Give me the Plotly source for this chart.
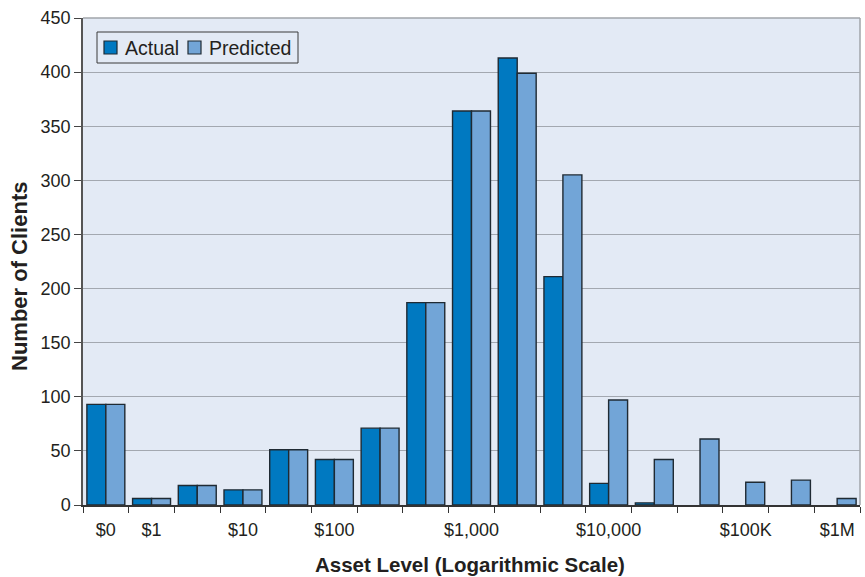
import plotly.graph_objects as go

# Asset-level bins (log scale), with labels only on some bins
bins = list(range(17))
bin_labels = ["$0", "$1", "", "$10", "", "$100", "", "", "$1,000", "", "",
              "$10,000", "", "", "$100K", "", "$1M"]

actual = [93, 6, 18, 14, 51, 42, 71, 187, 364, 413, 211, 20, 2, 0, 0, 0, 0]
predicted = [93, 6, 18, 14, 51, 42, 71, 187, 364, 399, 305, 97, 42, 61, 21, 23, 6]

y_ticks = list(range(0, 451, 50))

FONT = "Arial, Liberation Sans, sans-serif"
TXT = "#231f20"
PLOT_BG = "#e3eaf5"
C_ACT = "#0079c1"
C_PRED = "#72a5d7"
EDGE = "#1f2a33"

# plot area in pixels (figure is 865 x 577)
L, R, T, B = 83, 5, 18, 72
PW, PH = 865 - L - R, 577 - T - B


def px(x):
    return (x - L) / PW


def py(y):
    return (577 - B - y) / PH


def edge_widths(vals):
    # no outline for empty bins, so nothing is drawn on the baseline
    return [0 if v == 0 else 1.4 for v in vals]


fig = go.Figure()
fig.add_trace(go.Bar(
    x=bins, y=actual, name="Actual",
    marker=dict(color=C_ACT, line=dict(color=EDGE, width=edge_widths(actual))),
))
fig.add_trace(go.Bar(
    x=bins, y=predicted, name="Predicted",
    marker=dict(color=C_PRED, line=dict(color=EDGE, width=edge_widths(predicted))),
))

fig.update_layout(
    width=865, height=577,
    margin=dict(l=L, r=R, t=T, b=B),
    paper_bgcolor="white",
    plot_bgcolor=PLOT_BG,
    barmode="group",
    bargap=0.17,
    bargroupgap=0,
    font=dict(family=FONT, size=18, color=TXT),
    showlegend=False,
)

fig.update_xaxes(
    range=[-0.5, 16.5],
    tickmode="array", tickvals=bins, ticktext=bin_labels,
    ticks="outside", ticklen=8, tickcolor="rgba(0,0,0,0)",
    tickfont=dict(family=FONT, size=18, color=TXT),
    minor=dict(tickmode="array", tickvals=[b - 0.5 for b in bins] + [16.5],
               ticks="outside", ticklen=6, tickcolor="#333333", tickwidth=1.3,
               showgrid=False),
    showline=True, linecolor="#333333", linewidth=1.5,
    mirror=False, showgrid=False, zeroline=False,
)

fig.update_yaxes(
    range=[0, 450],
    tickmode="array", tickvals=y_ticks,
    ticks="outside", ticklen=7, tickcolor="#444444", tickwidth=1.2,
    tickfont=dict(family=FONT, size=18, color=TXT),
    showline=True, linecolor="#555555", linewidth=1.5,
    showgrid=True, gridcolor="#a3a8b0", gridwidth=1,
    zeroline=False,
)

# axis titles
fig.add_annotation(text="<b>Asset Level (Logarithmic Scale)</b>",
                   xref="paper", yref="paper", x=px(470), y=py(576.5),
                   xanchor="center", yanchor="bottom", showarrow=False,
                   borderpad=0,
                   font=dict(family=FONT, size=20.5, color=TXT))
fig.add_annotation(text="<b>Number of Clients</b>",
                   xref="paper", yref="paper", x=px(19), y=py(277),
                   xanchor="center", yanchor="middle", textangle=-90,
                   showarrow=False, font=dict(family=FONT, size=22, color=TXT))

# light gray frame on the top and right of the plot area
fig.add_shape(type="line", xref="paper", yref="paper", x0=0, x1=1, y0=1, y1=1,
              line=dict(color="#a0a4aa", width=1.5))
fig.add_shape(type="line", xref="paper", yref="paper", x0=1, x1=1, y0=0, y1=1,
              line=dict(color="#a0a4aa", width=1.5))

# legend box with swatches
fig.add_shape(type="rect", xref="paper", yref="paper",
              x0=px(97), x1=px(298), y0=py(63), y1=py(32),
              fillcolor=PLOT_BG, line=dict(color="#3a3a3a", width=1))
for sx, col, label in [(104, C_ACT, "Actual"), (188, C_PRED, "Predicted")]:
    fig.add_shape(type="rect", xref="paper", yref="paper",
                  x0=px(sx), x1=px(sx + 13), y0=py(54), y1=py(41),
                  fillcolor=col, line=dict(color=EDGE, width=1.2))
    fig.add_annotation(text=label, xref="paper", yref="paper",
                       x=px(sx + 19), y=py(47.5), xanchor="left", yanchor="middle",
                       showarrow=False, font=dict(family=FONT, size=19.5, color=TXT))

fig.write_html("out.html")
